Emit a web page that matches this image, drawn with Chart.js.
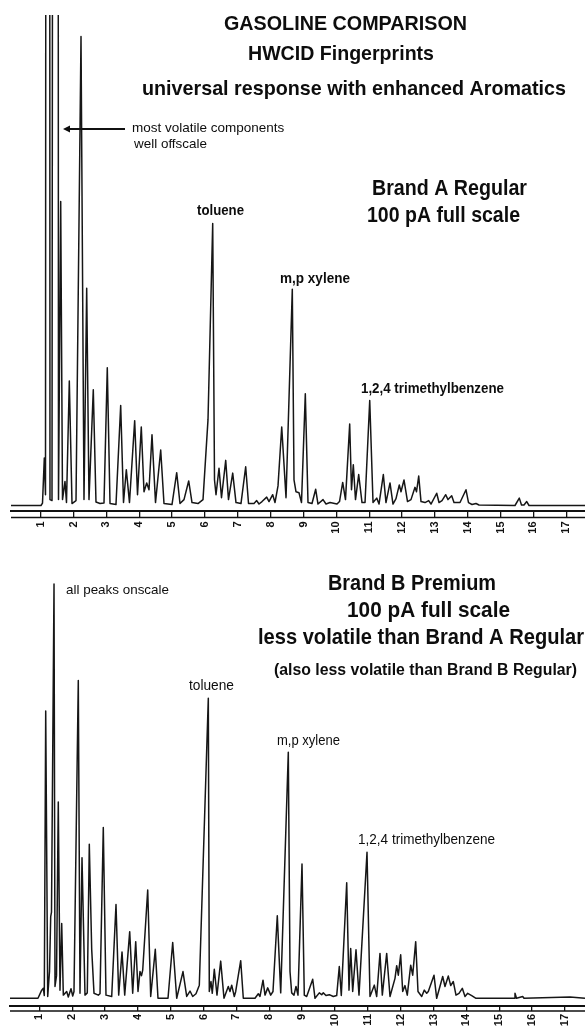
<!DOCTYPE html>
<html>
<head>
<meta charset="utf-8">
<script src="https://cdn.jsdelivr.net/npm/chart.js@4.4.1/dist/chart.umd.min.js"></script>
<style>
  html, body { margin: 0; padding: 0; background: #fff; }
  #sheet { position: relative; width: 585px; height: 1029px; overflow: hidden; background: #fff; }
  #sheet canvas { position: absolute; left: 0; }
</style>
</head>
<body>
<div id="sheet">
  <canvas id="brandA" width="585" height="541" style="top:0;width:585px;height:541px"></canvas>
  <canvas id="brandB" width="585" height="488" style="top:541px;width:585px;height:488px"></canvas>
</div>
<script>
// Retention-time axis (minutes)
const tickMinutes = [1, 2, 3, 4, 5, 6, 7, 8, 9, 10, 11, 12, 13, 14, 15, 16, 17];

// Detector trace vertices [minutes, pA] — Brand A Regular (early peaks run far off scale)
const brandARegular = [
  [0.096, 0], [1.009, 0], [1.055, 0.5], [1.110, 9.7], [1.146, 2.2], [1.222, 1000], [1.283, 1.2], [1.344, 1.0],
  [1.472, 1000], [1.542, 1.2], [1.609, 62.0], [1.664, 1.2], [1.740, 4.9], [1.785, 0.6], [1.871, 25.4], [1.953, 0.4],
  [2.075, 1.0], [2.227, 95.6], [2.318, 1.2], [2.400, 44.3], [2.470, 1.2], [2.601, 23.6], [2.683, 0.7], [2.805, 0.4],
  [2.927, 0.5], [3.027, 28.1], [3.110, 0.4], [3.292, 0.2], [3.435, 20.4], [3.521, 0.6], [3.606, 7.3], [3.703, 0.6],
  [3.861, 17.3], [3.947, 2.2], [4.062, 16.0], [4.145, 2.8], [4.227, 4.6], [4.297, 3.2], [4.388, 14.4], [4.495, 0.6],
  [4.653, 11.3], [4.753, 0.4], [4.997, 0.2], [5.140, 6.7], [5.240, 0.4], [5.362, 1.2], [5.505, 5.0], [5.606, 0.6],
  [5.788, 0.4], [5.941, 1.2], [6.093, 17.5], [6.236, 57.5], [6.291, 5.2], [6.337, 2.2], [6.428, 7.6], [6.504, 1.6],
  [6.632, 9.2], [6.717, 1.2], [6.845, 6.6], [6.945, 0.6], [7.097, 0.4], [7.240, 7.9], [7.326, 0.4], [7.493, 0.4],
  [7.575, 1.0], [7.645, 0.3], [7.737, 0.8], [7.880, 1.7], [7.950, 0.8], [8.062, 2.2], [8.132, 0.6], [8.224, 4.0],
  [8.337, 16.0], [8.468, 1.6], [8.659, 44.1], [8.711, 5.2], [8.772, 2.8], [8.863, 2.6], [8.939, 0.6], [9.055, 22.8],
  [9.137, 0.6], [9.259, 0.4], [9.371, 3.3], [9.441, 0.3], [9.594, 1.2], [9.685, 0.3], [9.807, 0.6], [10.020, 0.3],
  [10.096, 0.8], [10.193, 4.7], [10.278, 1.2], [10.406, 16.6], [10.461, 3.2], [10.516, 8.3], [10.583, 1.2], [10.680, 6.3],
  [10.781, 0.6], [10.873, 0.6], [11.016, 21.4], [11.116, 0.6], [11.229, 1.5], [11.299, 0.3], [11.430, 6.3], [11.511, 0.6],
  [11.633, 4.6], [11.724, 0.3], [11.816, 1.4], [11.916, 4.2], [11.968, 2.8], [12.059, 5.2], [12.166, 0.8], [12.272, 1.2],
  [12.394, 3.7], [12.440, 2.8], [12.507, 6.0], [12.577, 0.8], [12.699, 0.6], [12.811, 1.0], [12.881, 0.3], [13.055, 2.5],
  [13.125, 0.6], [13.216, 1.0], [13.329, 2.2], [13.399, 1.2], [13.511, 2.0], [13.581, 0.6], [13.764, 0.6], [13.947, 3.2],
  [14.023, 0.6], [14.129, 0.2], [14.251, 0.4], [14.342, 0.1], [15.438, 0], [15.569, 1.5], [15.636, 0.1], [15.712, 0.1],
  [15.795, 0.8], [15.865, 0], [17.569, 0]
];

// Detector trace vertices [minutes, pA] — Brand B Premium (all peaks on scale)
const brandBPremium = [
  [0.108, 0], [0.960, 0], [1.073, 1.8], [1.122, 2.2], [1.152, 0.6], [1.195, 63.4], [1.256, 0.4], [1.311, 6.0],
  [1.347, 18.0], [1.371, 19.0], [1.448, 91.4], [1.478, 2.6], [1.524, 5.0], [1.578, 43.3], [1.630, 1.8], [1.682, 16.5],
  [1.731, 0.7], [1.834, 1.5], [1.883, 0.3], [1.965, 2.1], [2.017, 0.5], [2.056, 1.5], [2.187, 70.1], [2.239, 1.1],
  [2.300, 31.0], [2.391, 0.7], [2.461, 1.2], [2.522, 34.0], [2.595, 10.8], [2.665, 1.1], [2.796, 0.7], [2.848, 1.0],
  [2.948, 37.7], [3.030, 0.7], [3.204, 0.4], [3.335, 20.7], [3.417, 0.7], [3.518, 10.2], [3.600, 0.7], [3.752, 14.7],
  [3.843, 1.1], [3.935, 12.5], [4.005, 1.5], [4.065, 5.9], [4.111, 5.0], [4.148, 6.2], [4.300, 23.9], [4.391, 0.4],
  [4.531, 10.8], [4.613, 0], [4.918, 0], [5.061, 12.3], [5.183, 0], [5.374, 5.9], [5.487, 0.4], [5.588, 1.6],
  [5.670, 0.4], [5.770, 1.0], [5.871, 2.9], [6.145, 66.2], [6.175, 1.5], [6.226, 3.7], [6.266, 1.1], [6.327, 6.4],
  [6.409, 0.7], [6.522, 8.2], [6.622, 0], [6.753, 2.6], [6.805, 1.5], [6.857, 2.9], [6.936, 0.4], [6.979, 1.5],
  [7.131, 8.3], [7.210, 0], [7.566, 0], [7.667, 1.0], [7.719, 0.4], [7.810, 4.0], [7.871, 0.7], [7.953, 2.3],
  [8.044, 0.7], [8.114, 1.5], [8.245, 18.2], [8.349, 1.2], [8.580, 54.3], [8.632, 5.9], [8.683, 1.2], [8.753, 0.7],
  [8.814, 2.6], [8.875, 0.7], [8.997, 29.6], [9.067, 0.7], [9.140, 0.4], [9.323, 4.2], [9.393, 0], [9.523, 1.2],
  [9.597, 0.8], [9.645, 1.2], [9.727, 0.6], [9.828, 0.8], [9.950, 0.4], [10.053, 0.6], [10.132, 7.0], [10.193, 0.6],
  [10.358, 25.5], [10.428, 1.8], [10.479, 11.0], [10.540, 1.5], [10.641, 10.7], [10.732, 0.7], [10.976, 32.2], [11.067, 0.4],
  [11.198, 2.9], [11.271, 0.4], [11.371, 9.9], [11.442, 0.7], [11.575, 9.9], [11.676, 0.4], [11.828, 4.4], [11.880, 7.2],
  [11.929, 5.1], [12.001, 9.6], [12.062, 1.5], [12.132, 2.8], [12.202, 0.7], [12.306, 7.3], [12.367, 5.1], [12.458, 12.5],
  [12.528, 1.5], [12.641, 0.4], [12.720, 1.8], [12.793, 1.1], [12.842, 1.5], [13.015, 5.1], [13.097, 0], [13.280, 4.8],
  [13.350, 2.6], [13.451, 4.9], [13.524, 2.8], [13.603, 3.7], [13.685, 0.7], [13.776, 1.1], [13.877, 2.2], [13.959, 0.4],
  [14.041, 1.1], [14.163, 0.6], [14.294, 0], [15.451, 0], [15.481, 1.1], [15.527, 0], [15.715, 0.4], [15.755, 0],
  [17.155, 0.3], [17.612, 0]
];

const FONT = '"Liberation Sans", Arial, Helvetica, sans-serif';

// Printed annotations for each panel (page coordinates; text squeezed to the given width)
const notesA = [
  { text: 'GASOLINE COMPARISON', x: 224, y: 30, w: 243, size: 21, weight: 'bold' },
  { text: 'HWCID Fingerprints', x: 248, y: 60, w: 186, size: 21, weight: 'bold' },
  { text: 'universal response with enhanced Aromatics', x: 142, y: 94.5, w: 424, size: 20.5, weight: 'bold' },
  { text: 'most volatile components', x: 132, y: 132, w: 154, size: 13.5, weight: 'normal' },
  { text: 'well offscale', x: 134, y: 148, w: 73, size: 13.5, weight: 'normal' },
  { text: 'Brand A Regular', x: 372, y: 194.5, w: 155, size: 22, weight: 'bold' },
  { text: '100 pA full scale', x: 367, y: 222, w: 153, size: 22, weight: 'bold' },
  { text: 'toluene', x: 197, y: 215, w: 47, size: 14.5, weight: 'bold' },
  { text: 'm,p xylene', x: 280, y: 282.5, w: 70, size: 14.5, weight: 'bold' },
  { text: '1,2,4 trimethylbenzene', x: 361, y: 393, w: 143, size: 15, weight: 'bold' }
];
const notesB = [
  { text: 'all peaks onscale', x: 66, y: 593.5, w: 103, size: 13.5, weight: 'normal' },
  { text: 'Brand B Premium', x: 328, y: 589.5, w: 168, size: 22, weight: 'bold' },
  { text: '100 pA full scale', x: 347, y: 617, w: 163, size: 22, weight: 'bold' },
  { text: 'less volatile than Brand A Regular', x: 258, y: 644, w: 326, size: 22, weight: 'bold' },
  { text: '(also less volatile than Brand B Regular)', x: 274, y: 675, w: 303, size: 16, weight: 'bold' },
  { text: 'toluene', x: 189, y: 689.5, w: 45, size: 14, weight: 'normal' },
  { text: 'm,p xylene', x: 277, y: 745, w: 63, size: 14, weight: 'normal' },
  { text: '1,2,4 trimethylbenzene', x: 358, y: 843.5, w: 137, size: 14.5, weight: 'normal' }
];

// Draws the printed notes, the pointer arrow and the lower rail of the time axis
const paperMarks = {
  id: 'paperMarks',
  afterDraw(chart, args, opts) {
    const ctx = chart.ctx;
    const xs = chart.scales.x;
    ctx.save();
    // lower rail of the time axis
    ctx.strokeStyle = '#111';
    ctx.lineWidth = 1.5;
    ctx.beginPath();
    ctx.moveTo(xs.left, xs.top + opts.railDepth);
    ctx.lineTo(xs.right, xs.top + opts.railDepth);
    ctx.stroke();

    ctx.fillStyle = '#0d0d0d';
    ctx.textAlign = 'left';
    ctx.textBaseline = 'alphabetic';
    for (const n of opts.notes) {
      ctx.font = `${n.weight} ${n.size}px ${FONT}`;
      ctx.fillText(n.text, n.x, n.y - opts.offsetY, n.w);
    }
    if (opts.arrow) {
      const a = opts.arrow;
      const y = a.y - opts.offsetY;
      ctx.lineWidth = 2;
      ctx.beginPath();
      ctx.moveTo(a.x1, y);
      ctx.lineTo(a.x0 + 5, y);
      ctx.stroke();
      ctx.beginPath();
      ctx.moveTo(a.x0, y);
      ctx.lineTo(a.x0 + 7, y - 3.5);
      ctx.lineTo(a.x0 + 7, y + 3.5);
      ctx.closePath();
      ctx.fill();
    }
    ctx.restore();
  }
};

function chromatogram(canvasId, trace, range, layout, notes, extra) {
  return new Chart(document.getElementById(canvasId), {
    type: 'line',
    data: {
      datasets: [{
        data: trace.map(([t, s]) => ({ x: t, y: s })),
        borderColor: '#161616',
        borderWidth: 1.5,
        borderJoinStyle: 'round',
        pointRadius: 0,
        tension: 0,
        fill: false
      }]
    },
    options: {
      responsive: false,
      animation: false,
      devicePixelRatio: 1,
      parsing: false,
      layout: { padding: { left: layout.left, right: 0, top: layout.top, bottom: 0 } },
      plugins: {
        legend: { display: false },
        tooltip: { enabled: false },
        paperMarks: { notes, offsetY: layout.offsetY, railDepth: layout.tick, arrow: extra.arrow || null }
      },
      scales: {
        x: {
          type: 'linear',
          min: range.xMin,
          max: range.xMax,
          afterBuildTicks: (scale) => { scale.ticks = tickMinutes.map(v => ({ value: v })); },
          afterFit: (scale) => { scale.height = layout.axisHeight; },
          grid: {
            drawOnChartArea: false,
            drawTicks: true,
            tickLength: layout.tick,
            color: '#111',
            lineWidth: 1.3
          },
          border: { display: true, color: '#111', width: 2 },
          ticks: {
            minRotation: 90,
            maxRotation: 90,
            autoSkip: false,
            padding: layout.labelPad,
            color: '#111',
            font: { family: FONT, size: 11, weight: 'bold' },
            callback: (v) => String(v)
          }
        },
        y: {
          type: 'linear',
          display: false,
          min: range.yMin,
          max: range.yMax
        }
      }
    },
    plugins: [paperMarks]
  });
}

chromatogram('brandA', brandARegular,
  { xMin: 0.096, xMax: 17.569, yMin: -1.02, yMax: 100 },
  { left: 11, top: 15, axisHeight: 30.5, tick: 7, labelPad: 4, offsetY: 0 },
  notesA,
  { arrow: { x0: 63, x1: 125, y: 129 } });

chromatogram('brandB', brandBPremium,
  { xMin: 0.108, xMax: 17.612, yMin: -1.59, yMax: 100 },
  { left: 10, top: 4, axisHeight: 23.5, tick: 5.5, labelPad: 3, offsetY: 541 },
  notesB,
  {});
</script>
</body>
</html>
